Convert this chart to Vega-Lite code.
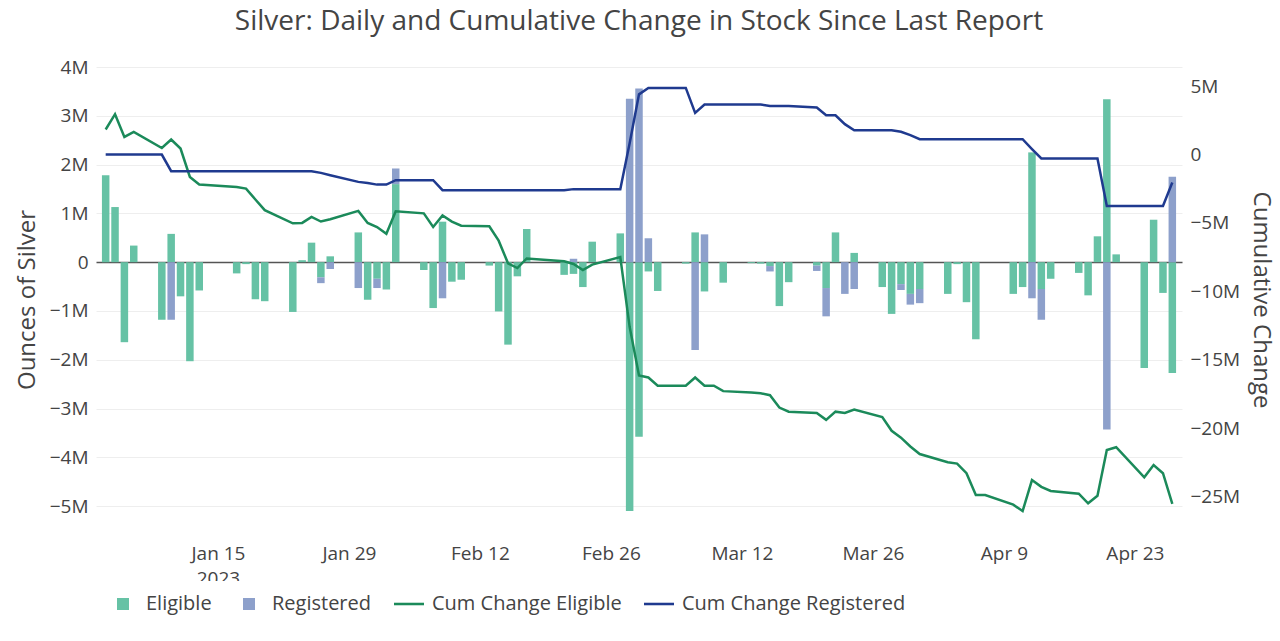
{
  "$schema": "https://vega.github.io/schema/vega-lite/v6.json",
  "width": 1086,
  "height": 465,
  "autosize": {"type": "none"},
  "padding": {"left": 96, "top": 67, "right": 98, "bottom": 109},
  "background": "white",
  "title": {"text": "Silver: Daily and Cumulative Change in Stock Since Last Report", "font": "Open Sans", "fontSize": 28, "fontWeight": "normal", "color": "#444444", "anchor": "middle", "frame": "group", "offset": 22},
  "config": {"font": "Open Sans", "view": {"stroke": null}},
  "datasets": {
    "bars": [
      {"date": "2023-01-03", "series": "Eligible", "value": 1.78},
      {"date": "2023-01-04", "series": "Eligible", "value": 1.13},
      {"date": "2023-01-05", "series": "Eligible", "value": -1.64},
      {"date": "2023-01-06", "series": "Eligible", "value": 0.34},
      {"date": "2023-01-09", "series": "Eligible", "value": -1.18},
      {"date": "2023-01-10", "series": "Eligible", "value": 0.58},
      {"date": "2023-01-10", "series": "Registered", "value": -1.18},
      {"date": "2023-01-11", "series": "Eligible", "value": -0.70},
      {"date": "2023-01-12", "series": "Eligible", "value": -2.03},
      {"date": "2023-01-13", "series": "Eligible", "value": -0.58},
      {"date": "2023-01-17", "series": "Eligible", "value": -0.23},
      {"date": "2023-01-18", "series": "Eligible", "value": -0.04},
      {"date": "2023-01-19", "series": "Eligible", "value": -0.76},
      {"date": "2023-01-20", "series": "Eligible", "value": -0.80},
      {"date": "2023-01-23", "series": "Eligible", "value": -1.02},
      {"date": "2023-01-24", "series": "Eligible", "value": 0.04},
      {"date": "2023-01-25", "series": "Eligible", "value": 0.40},
      {"date": "2023-01-26", "series": "Eligible", "value": -0.31},
      {"date": "2023-01-26", "series": "Registered", "value": -0.12},
      {"date": "2023-01-27", "series": "Eligible", "value": 0.12},
      {"date": "2023-01-27", "series": "Registered", "value": -0.14},
      {"date": "2023-01-30", "series": "Eligible", "value": 0.61},
      {"date": "2023-01-30", "series": "Registered", "value": -0.53},
      {"date": "2023-01-31", "series": "Eligible", "value": -0.77},
      {"date": "2023-02-01", "series": "Eligible", "value": -0.34},
      {"date": "2023-02-01", "series": "Registered", "value": -0.19},
      {"date": "2023-02-02", "series": "Eligible", "value": -0.56},
      {"date": "2023-02-03", "series": "Eligible", "value": 1.60},
      {"date": "2023-02-03", "series": "Registered", "value": 0.32},
      {"date": "2023-02-06", "series": "Eligible", "value": -0.16},
      {"date": "2023-02-07", "series": "Eligible", "value": -0.94},
      {"date": "2023-02-08", "series": "Eligible", "value": 0.83},
      {"date": "2023-02-08", "series": "Registered", "value": -0.74},
      {"date": "2023-02-09", "series": "Eligible", "value": -0.40},
      {"date": "2023-02-10", "series": "Eligible", "value": -0.36},
      {"date": "2023-02-13", "series": "Eligible", "value": -0.07},
      {"date": "2023-02-14", "series": "Eligible", "value": -1.01},
      {"date": "2023-02-15", "series": "Eligible", "value": -1.69},
      {"date": "2023-02-16", "series": "Eligible", "value": -0.29},
      {"date": "2023-02-17", "series": "Eligible", "value": 0.68},
      {"date": "2023-02-21", "series": "Eligible", "value": -0.26},
      {"date": "2023-02-22", "series": "Eligible", "value": -0.24},
      {"date": "2023-02-22", "series": "Registered", "value": 0.07},
      {"date": "2023-02-23", "series": "Eligible", "value": -0.51},
      {"date": "2023-02-24", "series": "Eligible", "value": 0.42},
      {"date": "2023-02-27", "series": "Eligible", "value": 0.59},
      {"date": "2023-02-28", "series": "Eligible", "value": -5.10},
      {"date": "2023-02-28", "series": "Registered", "value": 3.35},
      {"date": "2023-03-01", "series": "Eligible", "value": -3.58},
      {"date": "2023-03-01", "series": "Registered", "value": 3.56},
      {"date": "2023-03-02", "series": "Eligible", "value": -0.19},
      {"date": "2023-03-02", "series": "Registered", "value": 0.49},
      {"date": "2023-03-03", "series": "Eligible", "value": -0.59},
      {"date": "2023-03-06", "series": "Eligible", "value": -0.03},
      {"date": "2023-03-07", "series": "Eligible", "value": 0.61},
      {"date": "2023-03-07", "series": "Registered", "value": -1.80},
      {"date": "2023-03-08", "series": "Eligible", "value": -0.60},
      {"date": "2023-03-08", "series": "Registered", "value": 0.57},
      {"date": "2023-03-10", "series": "Eligible", "value": -0.42},
      {"date": "2023-03-13", "series": "Eligible", "value": -0.02},
      {"date": "2023-03-14", "series": "Eligible", "value": -0.03},
      {"date": "2023-03-15", "series": "Eligible", "value": -0.08},
      {"date": "2023-03-15", "series": "Registered", "value": -0.11},
      {"date": "2023-03-16", "series": "Eligible", "value": -0.90},
      {"date": "2023-03-17", "series": "Eligible", "value": -0.41},
      {"date": "2023-03-20", "series": "Eligible", "value": -0.07},
      {"date": "2023-03-20", "series": "Registered", "value": -0.11},
      {"date": "2023-03-21", "series": "Eligible", "value": -0.53},
      {"date": "2023-03-21", "series": "Registered", "value": -0.58},
      {"date": "2023-03-22", "series": "Eligible", "value": 0.61},
      {"date": "2023-03-23", "series": "Registered", "value": -0.65},
      {"date": "2023-03-24", "series": "Eligible", "value": 0.19},
      {"date": "2023-03-24", "series": "Registered", "value": -0.55},
      {"date": "2023-03-27", "series": "Eligible", "value": -0.51},
      {"date": "2023-03-28", "series": "Eligible", "value": -1.06},
      {"date": "2023-03-29", "series": "Eligible", "value": -0.45},
      {"date": "2023-03-29", "series": "Registered", "value": -0.12},
      {"date": "2023-03-30", "series": "Eligible", "value": -0.65},
      {"date": "2023-03-30", "series": "Registered", "value": -0.22},
      {"date": "2023-03-31", "series": "Eligible", "value": -0.55},
      {"date": "2023-03-31", "series": "Registered", "value": -0.29},
      {"date": "2023-04-03", "series": "Eligible", "value": -0.65},
      {"date": "2023-04-04", "series": "Eligible", "value": -0.04},
      {"date": "2023-04-05", "series": "Eligible", "value": -0.82},
      {"date": "2023-04-06", "series": "Eligible", "value": -1.58},
      {"date": "2023-04-10", "series": "Eligible", "value": -0.65},
      {"date": "2023-04-11", "series": "Eligible", "value": -0.51},
      {"date": "2023-04-12", "series": "Eligible", "value": 2.25},
      {"date": "2023-04-12", "series": "Registered", "value": -0.74},
      {"date": "2023-04-13", "series": "Eligible", "value": -0.55},
      {"date": "2023-04-13", "series": "Registered", "value": -0.63},
      {"date": "2023-04-14", "series": "Eligible", "value": -0.34},
      {"date": "2023-04-17", "series": "Eligible", "value": -0.22},
      {"date": "2023-04-18", "series": "Eligible", "value": -0.68},
      {"date": "2023-04-19", "series": "Eligible", "value": 0.53},
      {"date": "2023-04-20", "series": "Eligible", "value": 3.34},
      {"date": "2023-04-20", "series": "Registered", "value": -3.43},
      {"date": "2023-04-21", "series": "Eligible", "value": 0.16},
      {"date": "2023-04-24", "series": "Eligible", "value": -2.17},
      {"date": "2023-04-25", "series": "Eligible", "value": 0.87},
      {"date": "2023-04-26", "series": "Eligible", "value": -0.63},
      {"date": "2023-04-27", "series": "Eligible", "value": -2.27},
      {"date": "2023-04-27", "series": "Registered", "value": 1.75}
    ],
    "cum": [
      {"date": "2023-01-03", "series": "Cum Change Eligible", "value": 1.83},
      {"date": "2023-01-04", "series": "Cum Change Eligible", "value": 2.95},
      {"date": "2023-01-05", "series": "Cum Change Eligible", "value": 1.29},
      {"date": "2023-01-06", "series": "Cum Change Eligible", "value": 1.65},
      {"date": "2023-01-09", "series": "Cum Change Eligible", "value": 0.48},
      {"date": "2023-01-10", "series": "Cum Change Eligible", "value": 1.10},
      {"date": "2023-01-11", "series": "Cum Change Eligible", "value": 0.44},
      {"date": "2023-01-12", "series": "Cum Change Eligible", "value": -1.64},
      {"date": "2023-01-13", "series": "Cum Change Eligible", "value": -2.19},
      {"date": "2023-01-17", "series": "Cum Change Eligible", "value": -2.37},
      {"date": "2023-01-18", "series": "Cum Change Eligible", "value": -2.49},
      {"date": "2023-01-19", "series": "Cum Change Eligible", "value": -3.29},
      {"date": "2023-01-20", "series": "Cum Change Eligible", "value": -4.07},
      {"date": "2023-01-23", "series": "Cum Change Eligible", "value": -5.03},
      {"date": "2023-01-24", "series": "Cum Change Eligible", "value": -5.0},
      {"date": "2023-01-25", "series": "Cum Change Eligible", "value": -4.56},
      {"date": "2023-01-26", "series": "Cum Change Eligible", "value": -4.9},
      {"date": "2023-01-27", "series": "Cum Change Eligible", "value": -4.73},
      {"date": "2023-01-30", "series": "Cum Change Eligible", "value": -4.12},
      {"date": "2023-01-31", "series": "Cum Change Eligible", "value": -5.0},
      {"date": "2023-02-01", "series": "Cum Change Eligible", "value": -5.3},
      {"date": "2023-02-02", "series": "Cum Change Eligible", "value": -5.8},
      {"date": "2023-02-03", "series": "Cum Change Eligible", "value": -4.15},
      {"date": "2023-02-06", "series": "Cum Change Eligible", "value": -4.3},
      {"date": "2023-02-07", "series": "Cum Change Eligible", "value": -5.3},
      {"date": "2023-02-08", "series": "Cum Change Eligible", "value": -4.45},
      {"date": "2023-02-09", "series": "Cum Change Eligible", "value": -4.9},
      {"date": "2023-02-10", "series": "Cum Change Eligible", "value": -5.2},
      {"date": "2023-02-13", "series": "Cum Change Eligible", "value": -5.25},
      {"date": "2023-02-14", "series": "Cum Change Eligible", "value": -6.3},
      {"date": "2023-02-15", "series": "Cum Change Eligible", "value": -7.95},
      {"date": "2023-02-16", "series": "Cum Change Eligible", "value": -8.3},
      {"date": "2023-02-17", "series": "Cum Change Eligible", "value": -7.6},
      {"date": "2023-02-21", "series": "Cum Change Eligible", "value": -7.8},
      {"date": "2023-02-22", "series": "Cum Change Eligible", "value": -8.0},
      {"date": "2023-02-23", "series": "Cum Change Eligible", "value": -8.45},
      {"date": "2023-02-24", "series": "Cum Change Eligible", "value": -8.05},
      {"date": "2023-02-27", "series": "Cum Change Eligible", "value": -7.5},
      {"date": "2023-02-28", "series": "Cum Change Eligible", "value": -12.6},
      {"date": "2023-03-01", "series": "Cum Change Eligible", "value": -16.15},
      {"date": "2023-03-02", "series": "Cum Change Eligible", "value": -16.3},
      {"date": "2023-03-03", "series": "Cum Change Eligible", "value": -16.9},
      {"date": "2023-03-06", "series": "Cum Change Eligible", "value": -16.9},
      {"date": "2023-03-07", "series": "Cum Change Eligible", "value": -16.3},
      {"date": "2023-03-08", "series": "Cum Change Eligible", "value": -16.9},
      {"date": "2023-03-09", "series": "Cum Change Eligible", "value": -16.9},
      {"date": "2023-03-10", "series": "Cum Change Eligible", "value": -17.3},
      {"date": "2023-03-13", "series": "Cum Change Eligible", "value": -17.4},
      {"date": "2023-03-14", "series": "Cum Change Eligible", "value": -17.45},
      {"date": "2023-03-15", "series": "Cum Change Eligible", "value": -17.6},
      {"date": "2023-03-16", "series": "Cum Change Eligible", "value": -18.5},
      {"date": "2023-03-17", "series": "Cum Change Eligible", "value": -18.8},
      {"date": "2023-03-20", "series": "Cum Change Eligible", "value": -18.9},
      {"date": "2023-03-21", "series": "Cum Change Eligible", "value": -19.4},
      {"date": "2023-03-22", "series": "Cum Change Eligible", "value": -18.8},
      {"date": "2023-03-23", "series": "Cum Change Eligible", "value": -18.9},
      {"date": "2023-03-24", "series": "Cum Change Eligible", "value": -18.65},
      {"date": "2023-03-27", "series": "Cum Change Eligible", "value": -19.2},
      {"date": "2023-03-28", "series": "Cum Change Eligible", "value": -20.2},
      {"date": "2023-03-29", "series": "Cum Change Eligible", "value": -20.7},
      {"date": "2023-03-30", "series": "Cum Change Eligible", "value": -21.35},
      {"date": "2023-03-31", "series": "Cum Change Eligible", "value": -21.9},
      {"date": "2023-04-03", "series": "Cum Change Eligible", "value": -22.5},
      {"date": "2023-04-04", "series": "Cum Change Eligible", "value": -22.6},
      {"date": "2023-04-05", "series": "Cum Change Eligible", "value": -23.3},
      {"date": "2023-04-06", "series": "Cum Change Eligible", "value": -24.9},
      {"date": "2023-04-07", "series": "Cum Change Eligible", "value": -24.9},
      {"date": "2023-04-10", "series": "Cum Change Eligible", "value": -25.6},
      {"date": "2023-04-11", "series": "Cum Change Eligible", "value": -26.07},
      {"date": "2023-04-12", "series": "Cum Change Eligible", "value": -23.8},
      {"date": "2023-04-13", "series": "Cum Change Eligible", "value": -24.3},
      {"date": "2023-04-14", "series": "Cum Change Eligible", "value": -24.6},
      {"date": "2023-04-17", "series": "Cum Change Eligible", "value": -24.8},
      {"date": "2023-04-18", "series": "Cum Change Eligible", "value": -25.5},
      {"date": "2023-04-19", "series": "Cum Change Eligible", "value": -24.95},
      {"date": "2023-04-20", "series": "Cum Change Eligible", "value": -21.6},
      {"date": "2023-04-21", "series": "Cum Change Eligible", "value": -21.4},
      {"date": "2023-04-24", "series": "Cum Change Eligible", "value": -23.6},
      {"date": "2023-04-25", "series": "Cum Change Eligible", "value": -22.7},
      {"date": "2023-04-26", "series": "Cum Change Eligible", "value": -23.3},
      {"date": "2023-04-27", "series": "Cum Change Eligible", "value": -25.55},
      {"date": "2023-01-03", "series": "Cum Change Registered", "value": 0.0},
      {"date": "2023-01-04", "series": "Cum Change Registered", "value": 0.0},
      {"date": "2023-01-05", "series": "Cum Change Registered", "value": 0.0},
      {"date": "2023-01-06", "series": "Cum Change Registered", "value": 0.0},
      {"date": "2023-01-09", "series": "Cum Change Registered", "value": 0.0},
      {"date": "2023-01-10", "series": "Cum Change Registered", "value": -1.22},
      {"date": "2023-01-11", "series": "Cum Change Registered", "value": -1.22},
      {"date": "2023-01-12", "series": "Cum Change Registered", "value": -1.22},
      {"date": "2023-01-13", "series": "Cum Change Registered", "value": -1.22},
      {"date": "2023-01-17", "series": "Cum Change Registered", "value": -1.22},
      {"date": "2023-01-18", "series": "Cum Change Registered", "value": -1.22},
      {"date": "2023-01-19", "series": "Cum Change Registered", "value": -1.22},
      {"date": "2023-01-20", "series": "Cum Change Registered", "value": -1.22},
      {"date": "2023-01-23", "series": "Cum Change Registered", "value": -1.22},
      {"date": "2023-01-24", "series": "Cum Change Registered", "value": -1.22},
      {"date": "2023-01-25", "series": "Cum Change Registered", "value": -1.22},
      {"date": "2023-01-26", "series": "Cum Change Registered", "value": -1.34},
      {"date": "2023-01-27", "series": "Cum Change Registered", "value": -1.51},
      {"date": "2023-01-30", "series": "Cum Change Registered", "value": -2.0},
      {"date": "2023-01-31", "series": "Cum Change Registered", "value": -2.08},
      {"date": "2023-02-01", "series": "Cum Change Registered", "value": -2.2},
      {"date": "2023-02-02", "series": "Cum Change Registered", "value": -2.2},
      {"date": "2023-02-03", "series": "Cum Change Registered", "value": -1.88},
      {"date": "2023-02-06", "series": "Cum Change Registered", "value": -1.88},
      {"date": "2023-02-07", "series": "Cum Change Registered", "value": -1.88},
      {"date": "2023-02-08", "series": "Cum Change Registered", "value": -2.61},
      {"date": "2023-02-09", "series": "Cum Change Registered", "value": -2.61},
      {"date": "2023-02-10", "series": "Cum Change Registered", "value": -2.61},
      {"date": "2023-02-13", "series": "Cum Change Registered", "value": -2.61},
      {"date": "2023-02-14", "series": "Cum Change Registered", "value": -2.61},
      {"date": "2023-02-15", "series": "Cum Change Registered", "value": -2.61},
      {"date": "2023-02-16", "series": "Cum Change Registered", "value": -2.61},
      {"date": "2023-02-17", "series": "Cum Change Registered", "value": -2.61},
      {"date": "2023-02-21", "series": "Cum Change Registered", "value": -2.61},
      {"date": "2023-02-22", "series": "Cum Change Registered", "value": -2.53},
      {"date": "2023-02-23", "series": "Cum Change Registered", "value": -2.53},
      {"date": "2023-02-24", "series": "Cum Change Registered", "value": -2.53},
      {"date": "2023-02-27", "series": "Cum Change Registered", "value": -2.53},
      {"date": "2023-02-28", "series": "Cum Change Registered", "value": 0.82},
      {"date": "2023-03-01", "series": "Cum Change Registered", "value": 4.4},
      {"date": "2023-03-02", "series": "Cum Change Registered", "value": 4.87},
      {"date": "2023-03-03", "series": "Cum Change Registered", "value": 4.87},
      {"date": "2023-03-06", "series": "Cum Change Registered", "value": 4.87},
      {"date": "2023-03-07", "series": "Cum Change Registered", "value": 3.05},
      {"date": "2023-03-08", "series": "Cum Change Registered", "value": 3.66},
      {"date": "2023-03-09", "series": "Cum Change Registered", "value": 3.66},
      {"date": "2023-03-10", "series": "Cum Change Registered", "value": 3.66},
      {"date": "2023-03-13", "series": "Cum Change Registered", "value": 3.66},
      {"date": "2023-03-14", "series": "Cum Change Registered", "value": 3.66},
      {"date": "2023-03-15", "series": "Cum Change Registered", "value": 3.55},
      {"date": "2023-03-16", "series": "Cum Change Registered", "value": 3.55},
      {"date": "2023-03-17", "series": "Cum Change Registered", "value": 3.55},
      {"date": "2023-03-20", "series": "Cum Change Registered", "value": 3.44},
      {"date": "2023-03-21", "series": "Cum Change Registered", "value": 2.87},
      {"date": "2023-03-22", "series": "Cum Change Registered", "value": 2.87},
      {"date": "2023-03-23", "series": "Cum Change Registered", "value": 2.22},
      {"date": "2023-03-24", "series": "Cum Change Registered", "value": 1.78},
      {"date": "2023-03-27", "series": "Cum Change Registered", "value": 1.78},
      {"date": "2023-03-28", "series": "Cum Change Registered", "value": 1.78},
      {"date": "2023-03-29", "series": "Cum Change Registered", "value": 1.66},
      {"date": "2023-03-30", "series": "Cum Change Registered", "value": 1.42},
      {"date": "2023-03-31", "series": "Cum Change Registered", "value": 1.12},
      {"date": "2023-04-03", "series": "Cum Change Registered", "value": 1.12},
      {"date": "2023-04-04", "series": "Cum Change Registered", "value": 1.12},
      {"date": "2023-04-05", "series": "Cum Change Registered", "value": 1.12},
      {"date": "2023-04-06", "series": "Cum Change Registered", "value": 1.12},
      {"date": "2023-04-07", "series": "Cum Change Registered", "value": 1.12},
      {"date": "2023-04-10", "series": "Cum Change Registered", "value": 1.12},
      {"date": "2023-04-11", "series": "Cum Change Registered", "value": 1.12},
      {"date": "2023-04-12", "series": "Cum Change Registered", "value": 0.4},
      {"date": "2023-04-13", "series": "Cum Change Registered", "value": -0.29},
      {"date": "2023-04-14", "series": "Cum Change Registered", "value": -0.29},
      {"date": "2023-04-17", "series": "Cum Change Registered", "value": -0.29},
      {"date": "2023-04-18", "series": "Cum Change Registered", "value": -0.29},
      {"date": "2023-04-19", "series": "Cum Change Registered", "value": -0.29},
      {"date": "2023-04-20", "series": "Cum Change Registered", "value": -3.76},
      {"date": "2023-04-21", "series": "Cum Change Registered", "value": -3.76},
      {"date": "2023-04-24", "series": "Cum Change Registered", "value": -3.76},
      {"date": "2023-04-25", "series": "Cum Change Registered", "value": -3.76},
      {"date": "2023-04-26", "series": "Cum Change Registered", "value": -3.76},
      {"date": "2023-04-27", "series": "Cum Change Registered", "value": -2.05}
    ]
  },
  "layer": [
    {
      "data": {"name": "bars"},
      "mark": {"type": "bar", "size": 7.5},
      "encoding": {
        "x": {
          "field": "date", "type": "temporal",
          "scale": {"type": "utc", "domain": [{"year": 2023, "month": 1, "date": 2, "hours": 12, "utc": true}, {"year": 2023, "month": 4, "date": 27, "hours": 12, "utc": true}]},
          "axis": {
            "title": null, "domain": false, "ticks": false, "grid": false,
            "values": [{"year": 2023, "month": 1, "date": 15, "utc": true}, {"year": 2023, "month": 1, "date": 29, "utc": true}, {"year": 2023, "month": 2, "date": 12, "utc": true}, {"year": 2023, "month": 2, "date": 26, "utc": true}, {"year": 2023, "month": 3, "date": 12, "utc": true}, {"year": 2023, "month": 3, "date": 26, "utc": true}, {"year": 2023, "month": 4, "date": 9, "utc": true}, {"year": 2023, "month": 4, "date": 23, "utc": true}],
            "labelExpr": "utcFormat(datum.value, '%b %-d') == 'Jan 15' ? ['Jan 15', '2023'] : utcFormat(datum.value, '%b %-d')",
            "labelFont": "Open Sans", "labelFontSize": 19, "labelColor": "#444444", "labelPadding": 12, "labelLineHeight": 25, "labelFlush": false, "labelOverlap": false
          }
        },
        "y": {
          "field": "value", "type": "quantitative", "stack": "zero",
          "scale": {"domain": [-5.53, 4.0], "nice": false, "zero": false},
          "axis": {
            "title": "Ounces of Silver", "titleFont": "Open Sans", "titleFontSize": 24, "titleFontWeight": "normal", "titleColor": "#444444", "titlePadding": 10,
            "values": [-5, -4, -3, -2, -1, 0, 1, 2, 3, 4],
            "labelExpr": "datum.value == 0 ? '0' : format(datum.value, 'd') + 'M'",
            "labelFont": "Open Sans", "labelFontSize": 19, "labelColor": "#444444", "labelPadding": 8,
            "domain": false, "ticks": false, "grid": true,
            "gridColor": {"condition": {"test": "datum.value === 0", "value": "#555555"}, "value": "#eeeeee"},
            "gridWidth": {"condition": {"test": "datum.value === 0", "value": 1.5}, "value": 1}
          }
        },
        "color": {
          "field": "series", "type": "nominal",
          "scale": {"domain": ["Eligible", "Registered", "Cum Change Eligible", "Cum Change Registered"], "range": ["#66c2a5", "#8da0cb", "#1b8a5a", "#1f3a8f"]},
          "legend": {
            "orient": "none", "direction": "horizontal", "columns": 4, "legendX": 4, "legendY": 514, "title": null,
            "labelFont": "Open Sans", "labelFontSize": 20, "labelColor": "#444444", "labelOffset": 8, "labelLimit": 400, "columnPadding": 22,
            "padding": 8, "fillColor": "white", "symbolSize": 900, "symbolStrokeWidth": 0,
            "encode": {"symbols": {"update": {
              "shape": {"signal": "datum.value == 'Eligible' || datum.value == 'Registered' ? 'M-0.4,-0.4H0.4V0.4H-0.4Z' : 'M-1,-0.085H1V0.085H-1Z'"},
              "fill": {"scale": "color", "field": "value"},
              "stroke": {"value": "transparent"},
              "opacity": {"value": 1}
            }}}
          }
        },
        "order": {"field": "series", "sort": "ascending"}
      }
    },
    {
      "data": {"name": "cum"},
      "mark": {"type": "line", "strokeWidth": 2.5},
      "encoding": {
        "x": {
          "field": "date", "type": "temporal",
          "scale": {"type": "utc", "domain": [{"year": 2023, "month": 1, "date": 2, "hours": 12, "utc": true}, {"year": 2023, "month": 4, "date": 27, "hours": 12, "utc": true}]}
        },
        "y": {
          "field": "value", "type": "quantitative",
          "scale": {"domain": [-27.6, 6.4], "nice": false, "zero": false},
          "axis": {
            "orient": "right", "title": "Cumulative Change", "titleFont": "Open Sans", "titleFontSize": 24, "titleFontWeight": "normal", "titleColor": "#444444", "titlePadding": 9,
            "values": [-25, -20, -15, -10, -5, 0, 5],
            "labelExpr": "datum.value == 0 ? '0' : format(datum.value, 'd') + 'M'",
            "labelFont": "Open Sans", "labelFontSize": 19, "labelColor": "#444444", "labelPadding": 8,
            "domain": false, "ticks": false, "grid": false
          }
        },
        "color": {
          "field": "series", "type": "nominal",
          "scale": {"domain": ["Eligible", "Registered", "Cum Change Eligible", "Cum Change Registered"], "range": ["#66c2a5", "#8da0cb", "#1b8a5a", "#1f3a8f"]}
        }
      }
    }
  ],
  "resolve": {"scale": {"y": "independent"}, "axis": {"y": "independent"}}
}
